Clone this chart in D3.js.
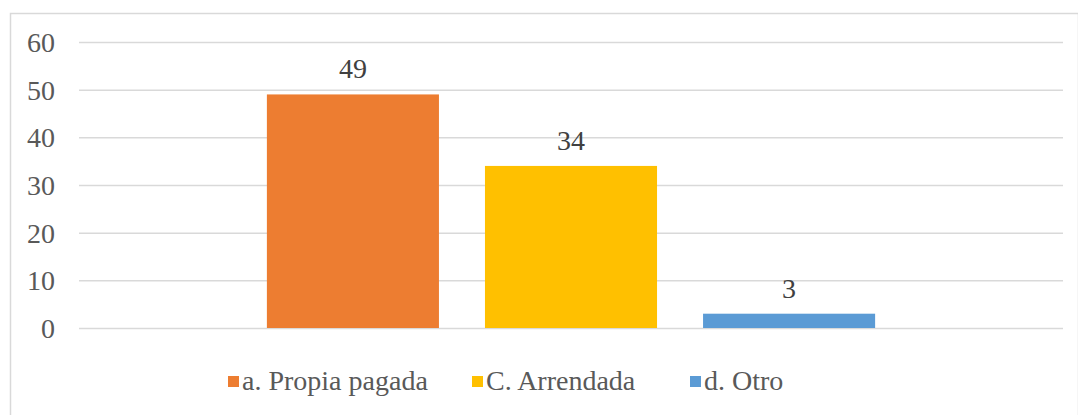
<!DOCTYPE html>
<html>
<head>
<meta charset="utf-8">
<script src="https://cdn.jsdelivr.net/npm/d3@7"></script>
</head>
<body style="margin:0">
<svg id="chart" width="1078" height="415" style="display:block"></svg>
<script>
const categories = ["Vivienda"];
const seriesNames = ["a. Propia pagada", "C. Arrendada", "d. Otro"];
const seriesValues = [49, 34, 3];
const seriesColors = ["#ED7D31", "#FFC000", "#5B9BD5"];
const yTicks = [0, 10, 20, 30, 40, 50, 60];

const FONT = "Times New Roman";
const FS = 28;
const svg = d3.select("#chart");
const W = 1078, H = 415;
const plot = { left: 79, right: 1063, top: 42, bottom: 328 };

// outer border
svg.append("rect")
  .attr("x", 10.5).attr("y", 13.5)
  .attr("width", W - 10).attr("height", H)
  .attr("fill", "none").attr("stroke", "#d9d9d9").attr("stroke-width", 1.5);

const y = d3.scaleLinear().domain([0, 60]).range([plot.bottom, plot.top]);
const x0 = d3.scaleBand().domain(categories).range([plot.left, plot.right]).padding(0.236);
const x1 = d3.scaleBand().domain(seriesNames).range([0, x0.bandwidth()]).paddingInner(0.211);

// gridlines + tick labels
const yAxis = d3.axisLeft(y).tickValues(yTicks).tickSize(-(plot.right - plot.left)).tickPadding(24).tickFormat(d3.format("d"));
const gAxis = svg.append("g").attr("transform", `translate(${plot.left},0)`).call(yAxis);
gAxis.attr("font-family", FONT).attr("font-size", FS);
gAxis.select(".domain").remove();
gAxis.selectAll(".tick line").attr("stroke", "#d9d9d9").attr("stroke-width", 1.5);
gAxis.selectAll(".tick text").attr("fill", "#595959").attr("dy", "0.34em")
  .attr("font-family", FONT).attr("font-size", FS);

// bars
const data = seriesNames.map((s, i) => ({ name: s, value: seriesValues[i], color: seriesColors[i] }));
const g = svg.append("g").attr("transform", `translate(${x0(categories[0])},0)`);
g.selectAll("rect").data(data).join("rect")
  .attr("x", d => x1(d.name))
  .attr("y", d => y(d.value))
  .attr("width", x1.bandwidth())
  .attr("height", d => y(0) - y(d.value))
  .attr("fill", d => d.color);

// data labels
g.selectAll("text.lbl").data(data).join("text")
  .attr("class", "lbl")
  .attr("x", d => x1(d.name) + x1.bandwidth() / 2)
  .attr("y", d => y(d.value) - 16)
  .attr("text-anchor", "middle")
  .attr("font-family", FONT).attr("font-size", FS).attr("fill", "#404040")
  .text(d => d.value);

// legend
const legendX = [228, 472, 690];
data.forEach((d, i) => {
  svg.append("rect").attr("x", legendX[i]).attr("y", 376).attr("width", 11).attr("height", 11).attr("fill", d.color);
  svg.append("text").attr("x", legendX[i] + 14).attr("y", 390)
    .attr("font-family", FONT).attr("font-size", FS).attr("fill", "#595959")
    .text(d.name);
});
</script>
</body>
</html>
